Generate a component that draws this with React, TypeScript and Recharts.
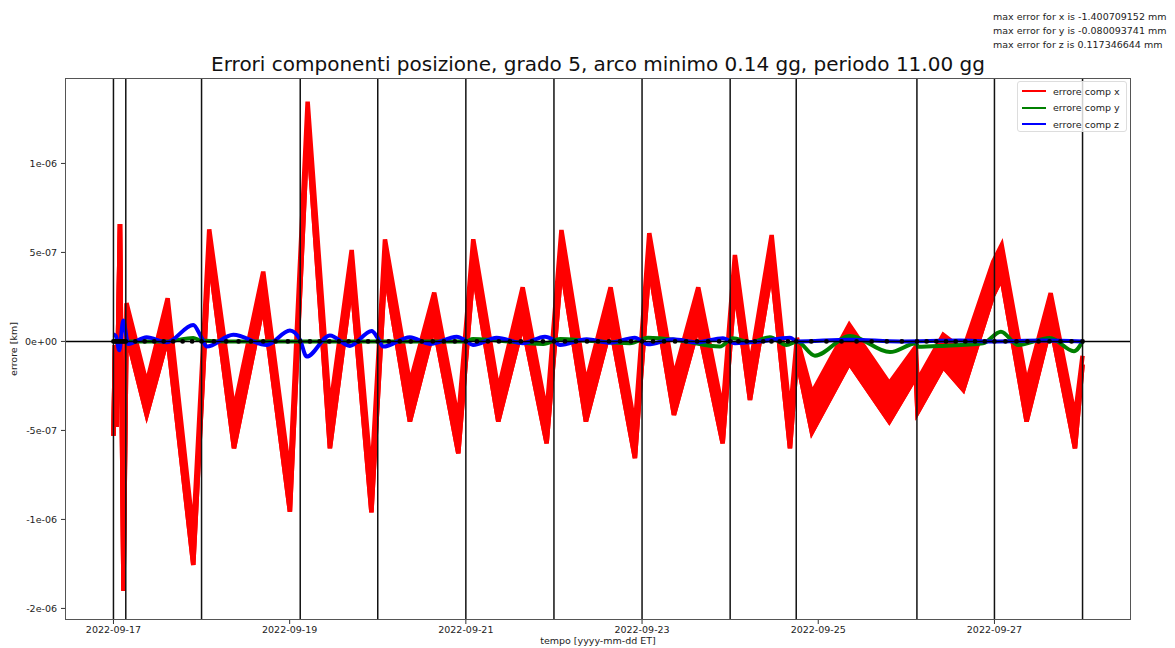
import React from 'react';
import { ComposedChart, XAxis, YAxis, Area, Line, Scatter, ReferenceLine } from 'recharts';

const W = 1175;
const H = 648;
const FONT = '"DejaVu Sans", "Liberation Sans", sans-serif';
const UNIT = 1e-7; // series values below are in units of 1e-7 km

// time axis: days since 2022-09-17 00:00 ET
const dateTicks = [0, 2, 4, 6, 8, 10];
const dateLabels = ['2022-09-17', '2022-09-19', '2022-09-21', '2022-09-23', '2022-09-25', '2022-09-27'];

const errTicks = [-1.5e-6, -1e-6, -5e-7, 0, 5e-7, 1e-6];
const errLabels = ['-2e-06', '-1e-06', '-5e-07', '0e+00', '5e-07', '1e-06'];

// x component: upper / lower edge of the fast-oscillation band
const xTimes = [
  0.0, 0.017, 0.034, 0.074, 0.114, 0.148, 0.377, 0.615, 0.906, 1.087,
  1.368, 1.7, 2.003, 2.204, 2.457, 2.704, 2.928, 3.082, 3.365, 3.641,
  3.914, 4.084, 4.368, 4.645, 4.917, 5.085, 5.363, 5.643, 5.919, 6.082,
  6.362, 6.638, 6.915, 7.054, 7.225, 7.471, 7.679, 7.758, 7.928, 8.352,
  8.806, 9.109, 9.126, 9.419, 9.646, 9.986, 10.082, 10.365, 10.638, 10.914,
  11.0,
];
const xUpper = [
  -5.3, -0.2, -4.8, 6.6, -14.0, 2.15, -2.35, 2.43, -10.76, 6.3,
  -3.85, 3.92, -7.6, 13.47, -3.85, 5.14, -7.7, 5.74, -2.35, 2.74,
  -4.41, 5.74, -2.72, 3.04, -4.03, 6.26, -2.35, 3.04, -4.79, 6.08,
  -1.98, 3.04, -3.85, 4.86, -1.42, 5.98, -4.13, 0.2, -2.9, 0.93,
  -2.35, -0.29, -2.2, 0.37, -0.48, 4.48, 5.42, -2.35, 2.71, -4.22,
  -0.8,
];
const xLower = [
  -5.3, -0.2, -4.8, 6.6, -14.0, 0.4, -4.13, 0.18, -12.56, 4.76,
  -6.0, 2.05, -9.56, 11.9, -6.0, 3.27, -9.6, 3.92, -4.5, 0.83,
  -6.28, 3.92, -4.5, 0.93, -5.72, 4.2, -4.5, 0.83, -6.56, 4.2,
  -4.13, 0.83, -5.72, 3.08, -3.29, 4.02, -6.0, -1.0, -5.1, -1.22,
  -4.5, -1.98, -4.0, -1.42, -2.72, 2.6, 3.55, -4.5, 0.93, -6.0,
  -1.3,
];

// y component
const yTimes = [
  0.0, 0.6, 0.906, 0.993, 1.3, 2.12, 4.0, 4.08, 4.88, 5.07,
  5.36, 5.863, 6.067, 6.43, 6.884, 7.032, 7.225, 7.451, 7.641, 7.758,
  7.962, 8.36, 8.814, 9.114, 9.131, 9.415, 9.87, 10.074, 10.267, 10.63,
  10.902, 11.0,
];
const yValues = [
  0.0, 0.0, 0.2, 0.05, 0.0, 0.0, 0.0, 0.14, -0.14, 0.14,
  0.05, -0.1, 0.21, 0.05, -0.29, 0.18, -0.05, 0.24, -0.2, 0.0,
  -0.8, 0.31, -0.6, -0.1, -0.3, -0.25, -0.1, 0.55, -0.2, 0.2,
  -0.55, 0.0,
];

// z component
const zTimes = [
  0.0, 0.028, 0.066, 0.111, 0.168, 0.377, 0.604, 0.906, 0.993, 1.058,
  1.36, 1.739, 2.003, 2.117, 2.193, 2.457, 2.684, 2.931, 2.999, 3.062,
  3.365, 3.592, 3.896, 3.998, 4.081, 4.35, 4.648, 4.898, 4.989, 5.068,
  5.371, 5.636, 5.919, 5.987, 6.067, 6.351, 6.62, 6.918, 7.054, 7.338,
  7.679, 7.758, 8.36, 8.927, 9.608, 9.983, 10.551, 11.0,
];
const zValues = [
  0.4, 0.3, -0.5, 1.17, -0.14, 0.24, -0.05, 0.93, 0.27, -0.29,
  0.37, -0.2, 0.61, 0.1, -0.85, 0.34, -0.25, 0.59, 0.2, -0.29,
  0.24, -0.14, 0.27, 0.05, -0.2, 0.21, -0.1, 0.27, 0.1, -0.2,
  0.12, -0.07, 0.21, 0.05, -0.16, 0.12, -0.05, 0.18, -0.1, 0.0,
  0.21, 0.0, 0.1, 0.0, 0.05, 0.0, 0.05, 0.0,
];

// arc boundaries (days)
const arcBounds = [0, 0.14, 1.0, 2.12, 3.0, 4.0, 5.0, 6.0, 7.0, 7.75, 9.12, 10.0, 11.0];

// interpolation nodes along each arc (days)
const nodeTimes = [
  0, 0.018, 0.035, 0.053, 0.07, 0.088, 0.105, 0.123, 0.14,
  0.248, 0.355, 0.463, 0.57, 0.678, 0.785, 0.893, 1.0,
  1.14, 1.28, 1.42, 1.56, 1.7, 1.84, 1.98, 2.12,
  2.23, 2.34, 2.45, 2.56, 2.67, 2.78, 2.89, 3.0,
  3.125, 3.25, 3.375, 3.5, 3.625, 3.75, 3.875, 4.0,
  4.125, 4.25, 4.375, 4.5, 4.625, 4.75, 4.875, 5.0,
  5.125, 5.25, 5.375, 5.5, 5.625, 5.75, 5.875, 6.0,
  6.125, 6.25, 6.375, 6.5, 6.625, 6.75, 6.875, 7.0,
  7.094, 7.188, 7.281, 7.375, 7.469, 7.563, 7.656, 7.75,
  7.921, 8.093, 8.264, 8.435, 8.606, 8.778, 8.949, 9.12,
  9.23, 9.34, 9.45, 9.56, 9.67, 9.78, 9.89, 10.0,
  10.125, 10.25, 10.375, 10.5, 10.625, 10.75, 10.875, 11.0,
];

const titleText = 'Errori componenti posizione, grado 5, arco minimo 0.14 gg, periodo 11.00 gg';
const maxErrLines = [
  'max error for x is -1.400709152 mm',
  'max error for y is -0.080093741 mm',
  'max error for z is 0.117346644 mm',
];
const seriesNames = ['errore comp x', 'errore comp y', 'errore comp z'];
const seriesColors = ['#ff0000', '#008000', '#0000ff'];

const xData = xTimes.map((t, i) => ({
  t,
  band: [xLower[i] * UNIT, xUpper[i] * UNIT],
  lo: xLower[i] * UNIT,
}));
const yData = yTimes.map((t, i) => ({ t, v: yValues[i] * UNIT }));
const zData = zTimes.map((t, i) => ({ t, v: zValues[i] * UNIT }));
const nodeData = nodeTimes.map((t) => ({ t, v: 0 }));

const PLOT = { left: 65, top: 78, right: 1131, bottom: 620 };

const tickStyle = { fontSize: 9.5, fill: '#222', fontFamily: FONT };

export default function App() {
  return (
    <div style={{ position: 'absolute', left: 0, top: 0, width: W, height: H, background: '#fff', fontFamily: FONT }}>
      <ComposedChart
        width={W}
        height={H}
        margin={{ top: PLOT.top, right: W - PLOT.right, left: 0, bottom: H - PLOT.bottom - 20 }}
      >
        <XAxis
          dataKey="t"
          type="number"
          domain={[-0.55, 11.55]}
          ticks={dateTicks}
          tickFormatter={(v: number) => dateLabels[dateTicks.indexOf(v)] ?? ''}
          allowDataOverflow
          height={20}
          axisLine={false}
          tickSize={4}
          tickMargin={2}
          tickLine={{ stroke: '#333' }}
          tick={tickStyle}
        />
        <YAxis
          type="number"
          domain={[-1.565e-6, 1.48e-6]}
          ticks={errTicks}
          tickFormatter={(v: number) => errLabels[errTicks.indexOf(v)] ?? ''}
          allowDataOverflow
          width={PLOT.left}
          axisLine={false}
          tickSize={4}
          tickMargin={4}
          tickLine={{ stroke: '#333' }}
          tick={tickStyle}
        />
        <Area
          data={xData}
          dataKey="band"
          type="linear"
          stroke={seriesColors[0]}
          strokeWidth={4.5}
          fill={seriesColors[0]}
          fillOpacity={1}
          isAnimationActive={false}
          dot={false}
          activeDot={false}
        />
        <Line
          data={xData}
          dataKey="lo"
          type="linear"
          stroke={seriesColors[0]}
          strokeWidth={4.5}
          dot={false}
          activeDot={false}
          isAnimationActive={false}
        />
        <Line
          data={yData}
          dataKey="v"
          type="monotone"
          stroke={seriesColors[1]}
          strokeWidth={4}
          dot={false}
          activeDot={false}
          isAnimationActive={false}
        />
        <Line
          data={zData}
          dataKey="v"
          type="monotone"
          stroke={seriesColors[2]}
          strokeWidth={4}
          dot={false}
          activeDot={false}
          isAnimationActive={false}
        />
        <ReferenceLine y={0} stroke="#000" strokeWidth={1.5} />
        {arcBounds.map((b) => (
          <ReferenceLine key={b} x={b} stroke="#111" strokeWidth={1.5} />
        ))}
        <Scatter
          data={nodeData}
          dataKey="v"
          isAnimationActive={false}
          shape={(p: any) => <circle cx={p.cx} cy={p.cy} r={2.4} fill="#000" />}
        />
      </ComposedChart>

      {/* plot frame */}
      <div
        style={{
          position: 'absolute',
          left: PLOT.left,
          top: PLOT.top,
          width: PLOT.right - PLOT.left,
          height: PLOT.bottom - PLOT.top,
          border: '1px solid #555',
          boxSizing: 'border-box',
          pointerEvents: 'none',
        }}
      />

      {/* title */}
      <div
        style={{
          position: 'absolute',
          left: PLOT.left,
          width: PLOT.right - PLOT.left,
          top: 53,
          fontSize: 20,
          lineHeight: '22px',
          textAlign: 'center',
          color: '#111',
          whiteSpace: 'nowrap',
        }}
      >
        {titleText}
      </div>

      {/* max error summary */}
      <div style={{ position: 'absolute', left: 993, top: 10, fontSize: 9.5, lineHeight: '14px', color: '#222', whiteSpace: 'nowrap' }}>
        {maxErrLines.map((s) => (
          <div key={s}>{s}</div>
        ))}
      </div>

      {/* axis labels */}
      <div
        style={{
          position: 'absolute',
          left: PLOT.left,
          width: PLOT.right - PLOT.left,
          top: 635,
          fontSize: 9.5,
          lineHeight: '12px',
          textAlign: 'center',
          color: '#222',
        }}
      >
        tempo [yyyy-mm-dd ET]
      </div>
      <div
        style={{
          position: 'absolute',
          left: 14 - 50,
          top: 349 - 6,
          width: 100,
          height: 12,
          fontSize: 9.5,
          lineHeight: '12px',
          textAlign: 'center',
          color: '#222',
          transform: 'rotate(-90deg)',
        }}
      >
        errore [km]
      </div>

      {/* legend */}
      <div
        style={{
          position: 'absolute',
          left: 1017,
          top: 81,
          width: 110,
          height: 51,
          border: '1px solid #ddd',
          borderRadius: 3,
          background: 'rgba(255,255,255,0.8)',
          boxSizing: 'border-box',
        }}
      >
        {seriesNames.map((name, i) => (
          <div
            key={name}
            style={{ position: 'absolute', left: 4, top: 2 + i * 16.5, height: 14, display: 'flex', alignItems: 'center' }}
          >
            <div style={{ width: 24, height: 2, background: seriesColors[i] }} />
            <div style={{ marginLeft: 7, fontSize: 9.5, color: '#222', whiteSpace: 'nowrap' }}>{name}</div>
          </div>
        ))}
      </div>
    </div>
  );
}
